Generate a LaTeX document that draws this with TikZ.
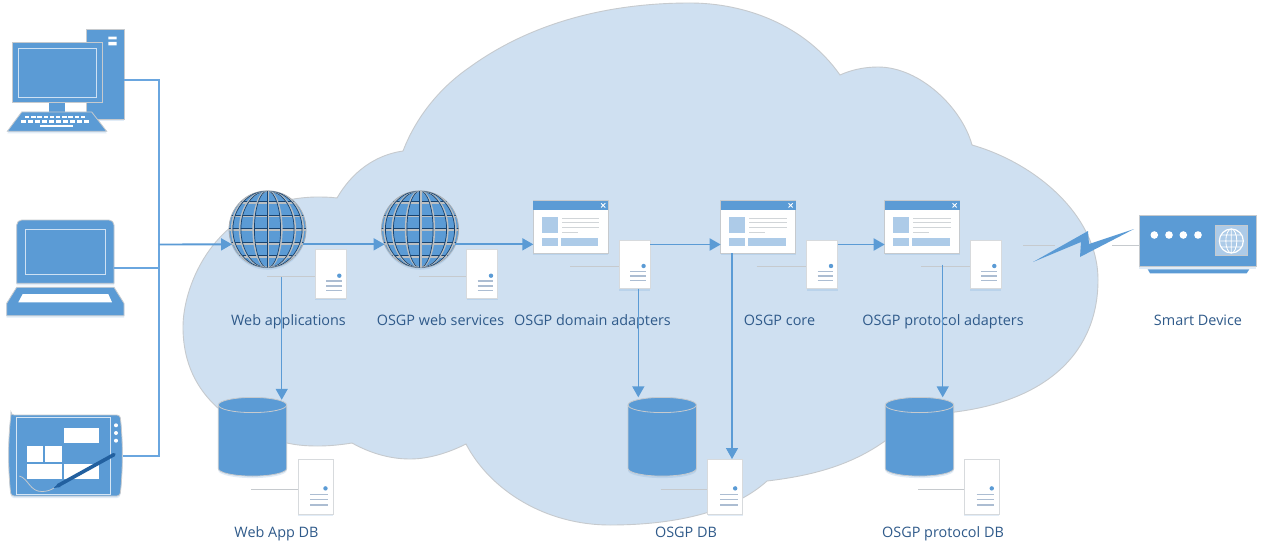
\documentclass[tikz,border=0pt]{standalone}
\usepackage{fontspec}
\setmainfont{Open Sans}
\usetikzlibrary{shadows,calc,arrows.meta}
\definecolor{mblue}{HTML}{5B9BD5}
\definecolor{lineblue}{HTML}{6AA6DF}
\definecolor{pale}{HTML}{ADCBE8}
\definecolor{cloudfill}{HTML}{CFE0F1}
\definecolor{rim}{HTML}{C6CACE}
\definecolor{txt}{HTML}{2F5A8A}
\definecolor{barline}{HTML}{ACBDD2}
\definecolor{pen}{HTML}{22609F}
\tikzset{
  softshadow/.style={drop shadow={shadow xshift=0pt,shadow yshift=-2pt,fill=mblue,opacity=.18}},
  solid blue/.style={fill=mblue,draw=rim,line width=.8pt},
  wire/.style={draw=lineblue,line width=1.8pt},
  arr/.style={draw=mblue,line width=1.9pt,-{Triangle[length=11pt,width=12pt]}},
  darr/.style={draw=mblue,line width=1.5pt,-{Triangle[length=11pt,width=12pt]}},
  lead/.style={draw=rim,line width=.9pt},
  serverbox/.style={rectangle,anchor=north west,fill=white,draw=rim!70,line width=.8pt,inner sep=0pt,outer sep=0pt,softshadow},
  windowbox/.style={rectangle,anchor=north west,fill=white,draw=rim,line width=.8pt,minimum width=75pt,minimum height=52.6pt,inner sep=0pt,outer sep=0pt,softshadow},
  globenode/.style={circle,minimum size=77pt,inner sep=0pt,outer sep=0pt,fill=mblue,draw=rim!60!gray,line width=.8pt,softshadow},
  dbbox/.style={rectangle,minimum width=68.4pt,minimum height=78.7pt,inner sep=0pt,outer sep=0pt},
  lbl/.style={text=txt,font=\fontsize{14.4}{16}\selectfont,inner sep=0pt,anchor=base},
  hitbox/.style={rectangle,inner sep=0pt,outer sep=0pt,anchor=north west}
}
% name, left, top, lead start, scale
\newcommand{\mkserver}[5]{%
  \draw[lead] (#4,#3+#5*26.7) -- (#2,#3+#5*26.7);
  \node[serverbox,minimum width=#5*31pt,minimum height=#5*48.7pt] (#1) at (#2,#3) {};
  \fill[mblue] (#2+#5*24.3,#3+#5*26) circle[radius=2.2];
  \foreach \k in {31.3,36,40.6}{\draw[barline,line width=1.6pt] (#2+#5*11,#3+#5*\k) -- (#2+#5*26.7,#3+#5*\k);}
}
% name, left, top
\newcommand{\mkwindow}[3]{%
  \node[windowbox] (#1) at (#2,#3) {};
  \fill[mblue] (#2,#3) rectangle (#2+75,#3+9.3);
  \draw[white,line width=.9pt] (#2+67.8,#3+2.6) -- (#2+72,#3+6.8) (#2+67.8,#3+6.8) -- (#2+72,#3+2.6);
  \fill[pale] (#2+8.7,#3+16) rectangle (#2+24.4,#3+32.6);
  \fill[pale] (#2+8.7,#3+37.6) rectangle (#2+24.4,#3+45.3);
  \fill[pale] (#2+27.4,#3+37.6) rectangle (#2+65,#3+45.3);
  \foreach \k in {17.6,22,26.6}{\draw[rim!80,line width=.9pt] (#2+28.7,#3+\k) -- (#2+66,#3+\k);}
  \draw[rim!80,line width=.9pt] (#2+28.7,#3+31.3) -- (#2+44.7,#3+31.3);
}
% name, cx, cy
\newcommand{\mkglobe}[3]{%
  \node[globenode] (#1) at (#2,#3) {};
  \begin{scope}
    \clip (#2,#3) circle[radius=38.3];
    \foreach \k in {-27,-13.5,0,14,27}{
      \draw[rim!85!gray,line width=1.7pt] (#2-40,#3+\k+.7) -- (#2+40,#3+\k+.7);
      \draw[pen!70!black,line width=.7pt] (#2-40,#3+\k-.5) -- (#2+40,#3+\k-.5);
    }
    \foreach \k in {13.5,27,35}{
      \draw[rim!85!gray,line width=1.6pt] (#2,#3) ellipse[x radius=\k+.8,y radius=38.5];
      \draw[pen!70!black,line width=.7pt] (#2,#3) ellipse[x radius=\k-.4,y radius=38.5];
    }
    \draw[rim!85!gray,line width=1.7pt] (#2+.7,#3-40) -- (#2+.7,#3+40);
    \draw[pen!70!black,line width=.7pt] (#2-.5,#3-40) -- (#2-.5,#3+40);
  \end{scope}
}
% name, left x
\newcommand{\mkdb}[2]{%
  \node[dbbox] (#1) at (#2+34.2,436.65) {};
  \path[solid blue,softshadow] (#2,405) -- (#2,468.5) arc[start angle=180,end angle=0,x radius=34.2,y radius=7.6] -- (#2+68.4,405) arc[start angle=0,end angle=-180,x radius=34.2,y radius=7.6] -- cycle;
  \draw[rim,line width=.8pt] (#2,405) arc[start angle=180,end angle=0,x radius=34.2,y radius=7.6];
}
\begin{document}
\begin{tikzpicture}[x=1pt,y=-1pt]
\useasboundingbox (0,0) rectangle (1264,559);
\fill[white] (0,0) rectangle (1264,559);
% cloud
\path[fill=cloudfill,draw=rim,line width=.9pt]
  (403,151) .. controls (418,112) and (445,84) .. (470,67)
  .. controls (510,38) and (580,3) .. (690,3)
  .. controls (745,3) and (805,25) .. (840,75)
  .. controls (851,70) and (864,67) .. (878,67)
  .. controls (920,67) and (962,108) .. (972,145)
  .. controls (1035,163) and (1098,215) .. (1098,280)
  .. controls (1098,350) and (1050,400) .. (955,412)
  .. controls (925,416) and (905,425) .. (885,441)
  .. controls (850,466) and (810,476) .. (767,481)
  .. controls (735,510) and (680,525) .. (610,525)
  .. controls (545,525) and (490,490) .. (466,444)
  .. controls (450,452) and (430,459) .. (410,459)
  .. controls (388,459) and (368,452) .. (352,443)
  .. controls (340,445) and (328,446) .. (318,446)
  .. controls (305,446) and (296,445) .. (287,443)
  .. controls (240,430) and (183,400) .. (183,327)
  .. controls (183,285) and (215,200) .. (315,197)
  .. controls (322,197) and (330,197) .. (337,198)
  .. controls (352,172) and (375,155) .. (403,151) -- cycle;

% desktop computer
\node[hitbox,minimum width=38pt,minimum height=90pt] (pc) at (86,29.3) {};
\path[solid blue,softshadow] (86,29.3) rectangle (124,119.3);
\fill[white] (108.3,36.7) rectangle (116.7,39.3) (108.3,42) rectangle (116.7,45.3);
\fill[mblue] (49.3,102) rectangle (64.7,112.5);
\path[solid blue] (12.7,42.7) rectangle (102.3,102.3);
\draw[white!70!mblue,line width=1pt] (18.3,48.3) rectangle (96.7,97.3);
\path[solid blue,softshadow] (21.7,112) -- (91.7,112) -- (106.7,131.3) -- (7.3,131.3) -- cycle;
\foreach \i in {0,...,9}{
  \fill[white] (25+\i*6.2,115.7) rectangle +(4.3,2.7);
  \fill[white] (20.7+\i*7,120) rectangle +(5,2.7);
}
\fill[white] (40,124.7) rectangle (73.3,127.3);

% laptop
\node[hitbox,minimum width=97.3pt,minimum height=63.3pt] (laptop) at (16.7,220) {};
\path[solid blue,softshadow] (16.7,283.3) -- (16.7,225) arc[start angle=180,end angle=270,radius=5] -- (109,220) arc[start angle=270,end angle=360,radius=5] -- (114,283.3) -- cycle;
\draw[white!70!mblue,line width=1pt] (25.3,229.3) rectangle (105.3,274);
\path[solid blue,softshadow] (16.7,287.3) -- (114,287.3) -- (124,303.3) -- (124,315.7) -- (6.7,315.7) -- (6.7,303.3) -- cycle;
\fill[white] (22.7,294) -- (108.3,294) -- (112,302.3) -- (18.3,302.3) -- cycle;

% tablet
\node[hitbox,minimum width=114.4pt,minimum height=81pt] (tablet) at (8.3,415) {};
\path[solid blue,rounded corners=3pt,softshadow] (11,415) -- (120,415) .. controls (123,440) and (123,470) .. (120,496) -- (11,496) .. controls (8,470) and (8,440) .. (11,415) -- cycle;
\draw[white!75!mblue,line width=.9pt] (16,417.3) rectangle (110.7,494);
\foreach \k in {425.3,433,440.7}{\fill[white] (116,\k) circle[radius=2];}
\fill[white] (64.3,428) rectangle (99.3,443.3);
\fill[white] (26.7,446.3) rectangle (43.3,461.7);
\fill[white] (45.3,446.3) rectangle (61.7,461.7);
\fill[white] (26.7,464.3) rectangle (61.7,479.3);
\fill[white] (64.3,464.3) rectangle (99.3,479.3);
\draw[rim,line width=.8pt] (19.3,476) .. controls (28,478) and (30,492) .. (42,491.5) .. controls (47,491.5) and (51,490) .. (54,488);
\draw[pen,line width=3.6pt,line cap=round] (58,485.6) -- (114,454.6);
\fill[pen] (53.5,488) -- (58.5,483.6) -- (60.5,487) -- cycle;

% shared bus
\coordinate (hub) at (159,244.5);
\draw[wire] (pc.east |- 0,80) -- (159,80) -- (159,455.7) -- (tablet.east |- 0,455.7);
\draw[wire] (laptop.east |- 0,267.7) -- (159,267.7);

% nodes of the chain
\mkglobe{g1}{267.5}{229.3}
\mkglobe{g2}{420}{229.3}
\mkwindow{w1}{533.3}{200.7}
\mkwindow{w2}{720.7}{200.7}
\mkwindow{w3}{884.7}{200.7}
\mkserver{s1}{315}{249.7}{267}{1}
\mkserver{s2}{466.7}{249.7}{419}{1}
\mkserver{s3}{619.3}{240}{570}{1}
\mkserver{s4}{806.7}{240}{756.7}{1}
\mkserver{s5}{970}{240}{921}{1}
\mkdb{db1}{218.3}
\mkdb{db2}{628}
\mkdb{db3}{885.3}
\mkserver{s6}{298}{459}{251}{1.13}
\mkserver{s7}{707.7}{459}{660.7}{1.13}
\mkserver{s8}{964.3}{459}{918}{1.13}

% smart device
\node[hitbox,fill=mblue,draw=rim,line width=.8pt,minimum width=116.7pt,minimum height=51pt,softshadow] (dev) at (1139.3,215.7) {};
\fill[mblue] (1147.7,269.3) -- (1249.3,269.3) -- (1246.7,273.3) -- (1150,273.3) -- cycle;
\foreach \k in {1154.3,1169,1183.3,1198}{\fill[white] (\k,235) circle[radius=3.8];}
\fill[pale] (1215.3,225.7) rectangle (1247,255.7);
\draw[rim,line width=.6pt] (1215.3,225.7) rectangle (1247,255.7);
\draw[white,line width=1.2pt] (1231.3,241) circle[radius=12];
\draw[white,line width=.8pt] (1231.3,241) ellipse[x radius=5.5,y radius=12] (1231.3,229) -- (1231.3,253) (1219.5,241) -- (1243,241) (1221,235) -- (1241.5,235) (1221,247) -- (1241.5,247);

% lightning link
\coordinate (boltin) at (1023,245);
\draw[lead] (boltin) -- (1055,245);
\draw[lead] (dev.west |- boltin) -- (1112,245);
\fill[mblue] (1033,262) -- (1088,231) -- (1089,244) -- (1134,229) -- (1080,257) -- (1081,242) -- cycle;

% labels
\node[lbl] (t1) at (288.5,325) {Web applications};
\node[lbl] (t2) at (440.5,325) {OSGP web services};
\node[lbl] (t3) at (592.5,325) {OSGP domain adapters};
\node[lbl] (t4) at (779.5,325) {OSGP core};
\node[lbl] (t5) at (943,325) {OSGP protocol adapters};
\node[lbl] (t6) at (1198,325) {Smart Device};
\node[lbl] (t7) at (276.5,537) {Web App DB};
\node[lbl] (t8) at (686,537) {OSGP DB};
\node[lbl] (t9) at (943,537) {OSGP protocol DB};

% connectors
\draw[arr] (hub) -- (g1.203);
\draw[arr] (g1.-23) -- (g2.203);
\draw[arr] (g2.-23) -- (w1.west |- g2.-23);
\draw[arr] (s3.east |- hub) -- (w2.west |- hub);
\draw[arr] (s4.east |- hub) -- (w3.west |- hub);
\coordinate (d1) at (281.7,277);
\coordinate (d4) at (942.7,264.7);
\draw[darr] (d1) -- ([yshift=-2.5pt]d1 |- db1.north);
\draw[darr] (638.3,0 |- s3.south) -- (638.3,0 |- db2.north);
\draw[darr] (732,0 |- w2.south) -- (732,0 |- s7.north);
\draw[darr] (d4) -- (d4 |- db3.north);
\end{tikzpicture}
\end{document}
